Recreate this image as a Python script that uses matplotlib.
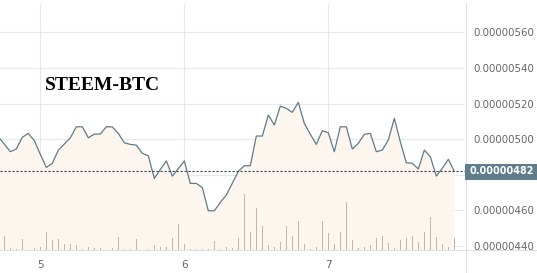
import matplotlib
matplotlib.use("Agg")
import matplotlib.pyplot as plt
from matplotlib.lines import Line2D
from matplotlib.patches import Rectangle

# hourly data, hour 0 = start of day 5
price_hours = list(range(-7, 70))
# price in satoshi (1e-8 BTC)
price_sat = [
    501.4, 497.3, 493.0, 494.5, 501.1, 503.3, 499.2, 491.5, 484.2, 486.5,
    493.9, 497.3, 500.8, 507.0, 507.0, 500.8, 502.9, 502.9, 507.0, 506.9,
    503.3, 498.0, 497.1, 496.7, 492.1, 490.7, 478.0, 483.0, 487.8, 479.3,
    483.5, 487.8, 475.2, 475.2, 472.9, 459.8, 459.8, 464.5, 468.7, 475.3,
    481.9, 485.1, 485.1, 501.8, 501.8, 513.6, 508.0, 518.6, 517.3, 515.1,
    520.7, 508.9, 502.8, 497.1, 504.8, 503.6, 493.0, 507.0, 507.0, 494.5,
    497.7, 502.8, 503.3, 493.0, 493.9, 499.6, 511.7, 498.6, 486.8, 486.5,
    483.3, 493.9, 490.2, 479.3, 483.7, 488.7, 482.0,
]
vol_hours = list(range(-6, 70))
volume = [
    14, 2.5, 1.5, 11.5, 0, 2.5, 3.5, 18, 10, 11, 6, 6, 5, 1, 3.5, 2.5, 2.5, 0,
    2.5, 13, 1, 1, 11, 0, 1, 5,
    3.5, 3.5, 12.3, 26, 6, 1, 1, 1, 1, 9, 1, 3.5, 2.5, 12, 56, 18, 42, 24, 5,
    3.5, 8, 24, 14, 29, 6,
    1, 3.5, 29, 17, 6, 18, 48, 10, 2.5, 3.5, 5, 12, 14, 7, 2.5, 10, 12, 14, 8,
    18, 33, 13, 6, 3.5, 12,
]
day_ticks = [0, 24, 48]
day_labels = ["5", "6", "7"]
price_ticks = [440, 460, 480, 500, 520, 540, 560]
last_price = 482

LINE = "#5f7b8a"
FILL = "#fdf6ee"
GRID = "#e8e8e8"
TXT = "#666666"

W, H = 537, 273
fig = plt.figure(figsize=(W / 100, H / 100), dpi=100)
ax = fig.add_axes([0, 23 / H, 465 / W, 247 / H])

ax.fill_between(price_hours, price_sat, 0, color=FILL, lw=0, zorder=1)
ax.plot(price_hours, price_sat, color=LINE, lw=0.9, zorder=3)
ax.axhline(last_price, color="#37474f", lw=0.8, ls=(0, (2, 1.6)), zorder=4)

ax.set_xlim(-6.72, 70.78)
ax.set_ylim(437.8, 576.5)
ax.grid(True, color=GRID, lw=0.8, zorder=0)
ax.set_axisbelow(True)
for s in ax.spines.values():
    s.set_visible(False)

# volume on its own scale
ax_vol = ax.twinx()
ax_vol.bar(vol_hours, volume, width=0.18, color="#c2b7ac", lw=0, zorder=2)
ax_vol.set_ylim(0, 247)
ax_vol.set_yticks([])
ax_vol.patch.set_visible(False)
for s in ax_vol.spines.values():
    s.set_visible(False)

# price ticks on the right (after twinx, which moves them left)
# the 480 label sits under the last-price box, so leave it blank
ax.set_xticks(day_ticks)
ax.set_xticklabels(day_labels)
ax.set_yticks(price_ticks)
ax.set_yticklabels(["" if v == 480 else f"{v / 1e8:.8f}" for v in price_ticks])
ax.yaxis.tick_right()
ax.tick_params(axis="y", which="both", length=0, left=False, right=False,
               labelleft=False, labelright=True, pad=6.3,
               labelsize=7.4, labelcolor=TXT)
ax.tick_params(axis="x", length=0, pad=7, labelsize=7.6, labelcolor=TXT)

# frame lines
fig.add_artist(Line2D([465.5 / W, 465.5 / W], [0, 270 / H], color="#e0e0e0", lw=0.8))
fig.add_artist(Line2D([0, 1], [23 / H, 23 / H], color="#e0e0e0", lw=0.8))

# current price box
fig.add_artist(Rectangle((465 / W, 1 - 179.5 / H), 72 / W, 16 / H,
                         transform=fig.transFigure, fc="#607d8b", ec="none", zorder=5))
fig.text(469 / W, 1 - 171.5 / H, f"{last_price / 1e8:.8f}", color="white",
         fontsize=6.9, fontweight="bold", va="center", ha="left", zorder=6)

fig.text(45 / W, 1 - 90 / H, "STEEM-BTC", family="Liberation Serif",
         fontweight="bold", fontsize=14, color="black", va="baseline")

fig.savefig("out.png", dpi=100)
